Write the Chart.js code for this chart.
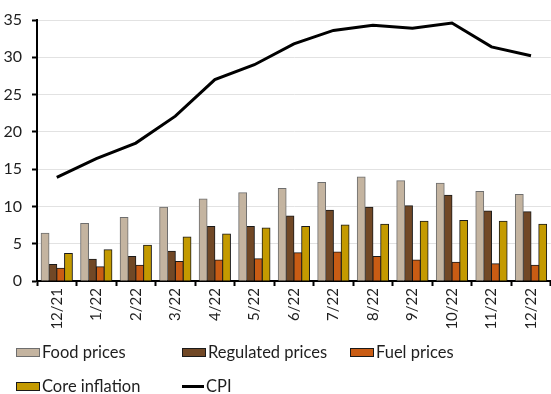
<!DOCTYPE html>
<html>
<head>
<meta charset="utf-8">
<script src="https://cdn.jsdelivr.net/npm/chart.js@4"></script>
<style>
  html, body { margin: 0; padding: 0; background: #fff; }
  #wrap { position: relative; width: 551px; height: 394px; overflow: hidden; }
  #chart { position: absolute; left: 0; top: 0; }
  #legend {
    position: absolute; left: 16px; top: 335px;
    display: grid; grid-template-columns: 166px 168px auto; grid-auto-rows: 34px;
    font-family: Lato, sans-serif; font-size: 16.5px; color: #1e1e1e;
  }
  .item { display: flex; align-items: center; white-space: nowrap; }
  .swatch { width: 22px; height: 7px; margin-right: 2px; }
  .lineswatch { width: 22px; height: 0; border-top: 3px solid #000; margin-right: 2px; }
</style>
</head>
<body>
<div id="wrap">
  <canvas id="chart" width="551" height="394"></canvas>
  <div id="legend"></div>
</div>
<script>
// Year-on-year change, %
const categories = ['12/21', '1/22', '2/22', '3/22', '4/22', '5/22', '6/22', '7/22', '8/22', '9/22', '10/22', '11/22', '12/22'];
const foodPrices = [6.4, 7.7, 8.5, 9.9, 11.0, 11.85, 12.4, 13.2, 13.95, 13.45, 13.1, 12.0, 11.6];
const regulatedPrices = [2.2, 2.9, 3.3, 4.0, 7.3, 7.3, 8.7, 9.5, 9.9, 10.1, 11.5, 9.4, 9.3];
const fuelPrices = [1.7, 1.9, 2.1, 2.6, 2.8, 3.0, 3.8, 3.9, 3.3, 2.8, 2.5, 2.3, 2.1];
const coreInflation = [3.7, 4.2, 4.8, 5.9, 6.3, 7.1, 7.3, 7.5, 7.6, 8.0, 8.1, 8.0, 7.6];
const cpi = [13.9, 16.4, 18.5, 22.1, 27.0, 29.0, 31.8, 33.6, 34.3, 33.9, 34.6, 31.4, 30.2];
const yTicks = [0, 5, 10, 15, 20, 25, 30, 35];

const font = { family: 'Lato, sans-serif', size: 16 };

function barSet(label, data, fill, edge) {
  return { type: 'bar', label, data, backgroundColor: fill, borderColor: edge, borderWidth: 1, order: 1,
           categoryPercentage: 0.79, barPercentage: 1.0, inflateAmount: 0.5 };
}

const chart = new Chart(document.getElementById('chart'), {
  data: {
    labels: categories,
    datasets: [
      barSet('Food prices', foodPrices, '#c4b4a0', '#6e6e6e'),
      barSet('Regulated prices', regulatedPrices, '#714826', '#1a1a1a'),
      barSet('Fuel prices', fuelPrices, '#c95c14', '#1a1a1a'),
      barSet('Core inflation', coreInflation, '#c49a00', '#1a1a1a'),
      { type: 'line', label: 'CPI', data: cpi, borderColor: '#000', borderWidth: 3,
        pointRadius: 0, tension: 0, fill: false, order: 0 }
    ]
  },
  options: {
    responsive: false,
    animation: false,
    layout: { padding: { top: 20, right: 0, bottom: 0, left: 0 } },
    plugins: { legend: { display: false }, tooltip: { enabled: false } },
    scales: {
      x: {
        grid: { offset: true, drawOnChartArea: false, drawTicks: true, tickLength: 5, tickColor: '#000', tickWidth: 2 },
        border: { display: true, color: '#000', width: 2 },
        ticks: { color: '#1e1e1e', font: { family: 'Lato, sans-serif', size: 15 }, minRotation: 90, maxRotation: 90, padding: 2, autoSkip: false },
        afterFit: s => { s.height = 113; }
      },
      y: {
        min: 0, max: 35,
        afterBuildTicks: s => { s.ticks = yTicks.map(v => ({ value: v })); },
        grid: { color: '#e2e2e2', lineWidth: 1, tickColor: '#000', tickLength: 5, tickWidth: 2 },
        border: { display: true, color: '#000', width: 2 },
        ticks: { color: '#1e1e1e', font, padding: 10 },
        afterFit: s => { s.width = 37; }
      }
    }
  }
});

// Legend built from the chart's datasets
const legend = document.getElementById('legend');
chart.data.datasets.forEach(ds => {
  const item = document.createElement('div');
  item.className = 'item';
  const mark = document.createElement('span');
  if (ds.type === 'line') {
    mark.className = 'lineswatch';
  } else {
    mark.className = 'swatch';
    mark.style.background = ds.backgroundColor;
    mark.style.border = '1px solid ' + ds.borderColor;
  }
  item.appendChild(mark);
  item.appendChild(document.createTextNode(ds.label));
  legend.appendChild(item);
});
</script>
</body>
</html>
